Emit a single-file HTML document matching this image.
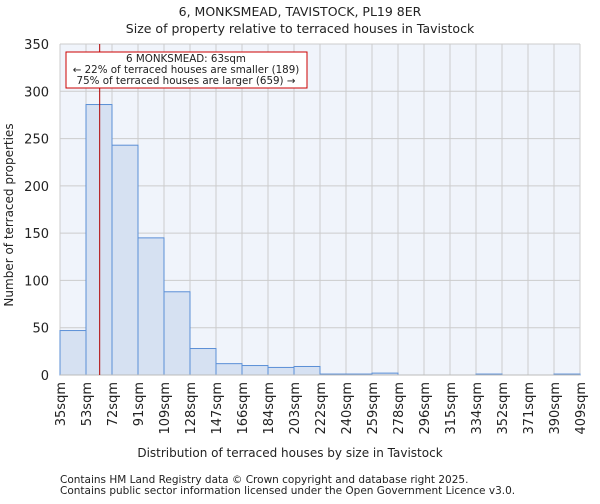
<!DOCTYPE html>
<html><head><meta charset="utf-8"><style>
body{margin:0;background:#fff;font-family:"DejaVu Sans","Liberation Sans",sans-serif;}
svg text{font-family:"DejaVu Sans","Liberation Sans",sans-serif;fill:#222;}
</style></head><body>
<svg id="c" width="600" height="500">
<text x="300" y="16" text-anchor="middle" font-size="12.5">6, MONKSMEAD, TAVISTOCK, PL19 8ER</text>
<text x="300" y="33" text-anchor="middle" font-size="12.5">Size of property relative to terraced houses in Tavistock</text>
<g id="plot"></g>
<text x="290" y="457" text-anchor="middle" font-size="12">Distribution of terraced houses by size in Tavistock</text>
<text transform="translate(13,215) rotate(-90)" text-anchor="middle" font-size="12">Number of terraced properties</text>
<text x="60" y="483" font-size="10.5">Contains HM Land Registry data © Crown copyright and database right 2025.</text>
<text x="60" y="494" font-size="10.5">Contains public sector information licensed under the Open Government Licence v3.0.</text>
</svg>
<script>
const tickLabels=["35sqm","53sqm","72sqm","91sqm","109sqm","128sqm","147sqm","166sqm","184sqm","203sqm","222sqm","240sqm","259sqm","278sqm","296sqm","315sqm","334sqm","352sqm","371sqm","390sqm","409sqm"];
const counts=[47,286,243,145,88,28,12,10,8,9,1,1,2,0,0,0,1,0,0,1];
const yTicks=[0,50,100,150,200,250,300,350];
const subjectSize=63;
const NS="http://www.w3.org/2000/svg";
const g=document.getElementById("plot");
const X0=60,X1=580,Y0=375,Y1=44,YMAX=350;
const bw=(X1-X0)/counts.length;
const xs=i=>X0+i*bw;
const ys=v=>Y0-(v/YMAX)*(Y0-Y1);
function mk(t,a){const e=document.createElementNS(NS,t);for(const k in a)e.setAttribute(k,a[k]);g.appendChild(e);return e;}
let e=mk("rect",{x:X0,y:Y1,width:X1-X0,height:Y0-Y1,fill:"#f0f4fb"});


yTicks.forEach(v=>{
 let l=mk("line",{x1:X0,x2:X1,y1:ys(v),y2:ys(v),stroke:"#ccc","stroke-width":1});
 
 
 let t=mk("text",{x:X0-11,y:ys(v)+5,"text-anchor":"end","font-size":"13"});t.textContent=v;
 
 
});
tickLabels.forEach((s,i)=>{
 let l=mk("line",{x1:xs(i),x2:xs(i),y1:Y1,y2:Y0,stroke:"#ccc","stroke-width":1});
 
 
 let t=mk("text",{transform:`translate(${xs(i)+5},${Y0+7}) rotate(-90)`,"text-anchor":"end","font-size":"13"});t.textContent=s;
 
 
});
counts.forEach((v,i)=>{
 let r=mk("rect",{x:xs(i),y:ys(v),width:bw,height:Y0-ys(v),fill:"#d6e1f2",stroke:"#5b8fd6","stroke-width":1});
 
 
});
e=mk("line",{x1:X0,x2:X1,y1:Y0,y2:Y0,stroke:"#bbb"});


const sx=v=>{const n=tickLabels.map(s=>parseFloat(s));for(let i=0;i<n.length-1;i++){if(v>=n[i]&&v<=n[i+1])return xs(i)+bw*(v-n[i])/(n[i+1]-n[i]);}return X0;};
const mx=sx(subjectSize);
e=mk("line",{x1:mx,x2:mx,y1:Y1,y2:Y0,stroke:"#b00000","stroke-width":1});


e=mk("rect",{x:66,y:52,width:241,height:36,fill:"#fff",stroke:"#c00","stroke-width":1});


["6 MONKSMEAD: 63sqm","← 22% of terraced houses are smaller (189)","75% of terraced houses are larger (659) →"].forEach((s,i)=>{
 let t=mk("text",{x:186,y:62+i*11,"text-anchor":"middle","font-size":"10.3"});t.textContent=s;
 
 
});
</script>
</body></html>
